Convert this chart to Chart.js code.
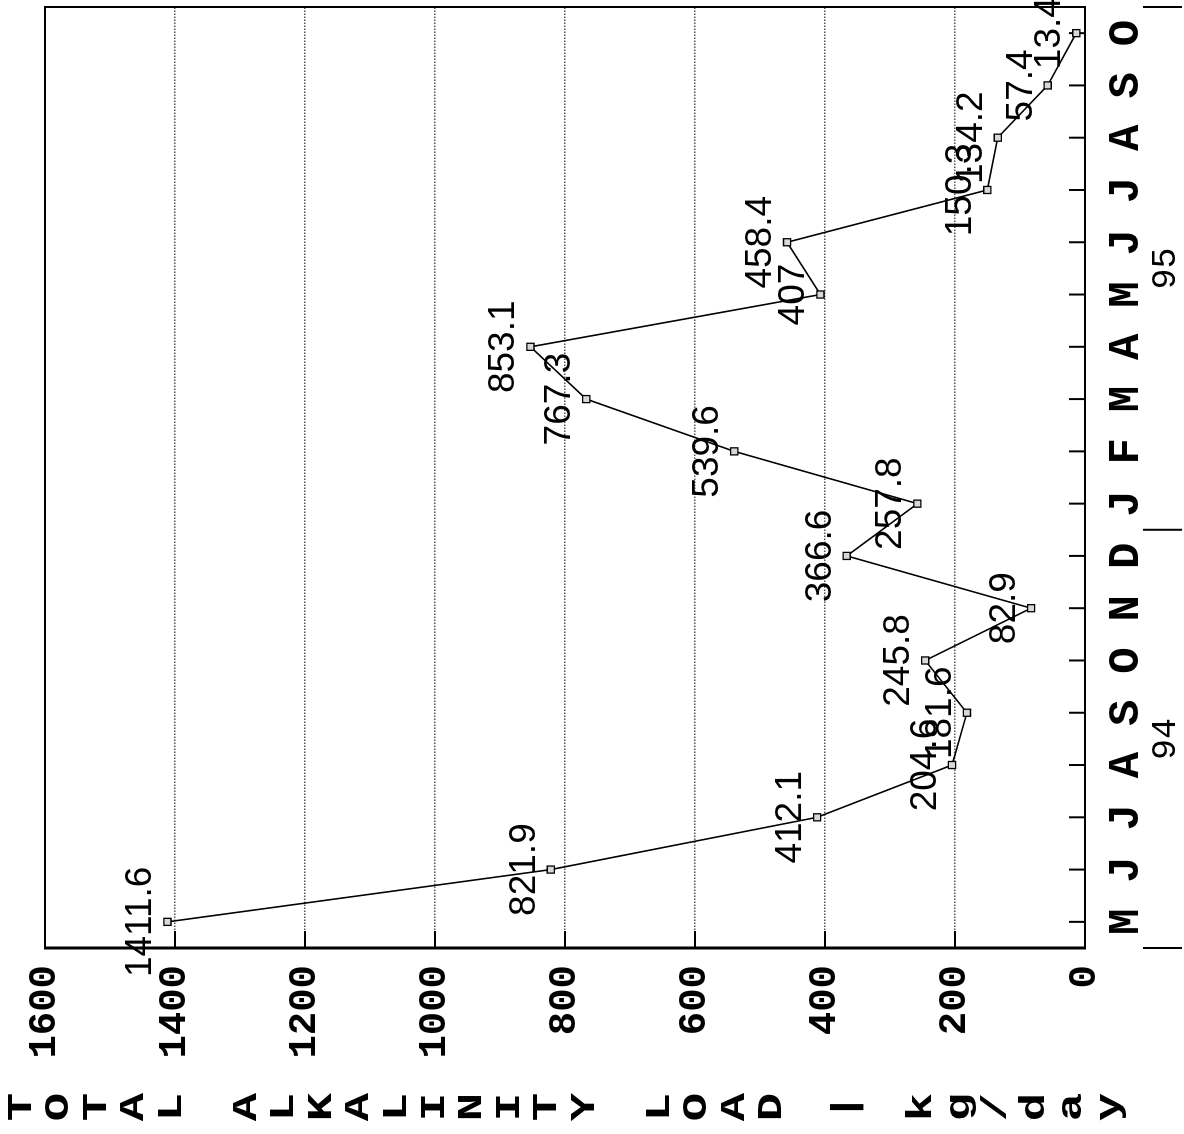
<!DOCTYPE html>
<html>
<head>
<meta charset="utf-8">
<title>Total alkalinity load</title>
<script src="https://cdn.jsdelivr.net/npm/chart.js@4.4.0/dist/chart.umd.min.js"></script>
<style>
  html, body { margin: 0; padding: 0; background: #fff; overflow: hidden; }
  #page { width: 1184px; height: 1134px; position: relative; overflow: hidden; background: #fff; }
  /* the chart is drawn landscape and turned a quarter turn, like the scanned page */
  #wrap { position: absolute; left: 0; top: 0; width: 1134px; height: 1184px;
          transform-origin: 0 0; transform: translate(0, 1134px) rotate(-90deg); }
</style>
</head>
<body>
<div id="page"><div id="wrap"><canvas id="chart" width="1134" height="1184"></canvas></div></div>
<script>
  // May 94 .. Oct 95
  const months = ['M','J','J','A','S','O','N','D','J','F','M','A','M','J','J','A','S','O'];
  const loads = [1411.6, 821.9, 412.1, 204.6, 181.6, 245.8, 82.9, 366.6, 257.8, 539.6, 767.3, 853.1, 407, 458.4, 150.3, 134.2, 57.4, 13.4];
  const years = ['94', '95'];
  const yearCenters = [3.5, 12.5];
  const yearBreaks = [-0.5, 7.5, 17.5];
  const titleText = 'TOTAL ALKALINITY LOAD | kg/day';

  const mono = 'Liberation Mono, Courier New, monospace';
  const sans = 'Liberation Sans, Arial, sans-serif';

  // frame, inner tick marks, point labels, year row and stacked title
  const frame = {
    id: 'frame',
    beforeDatasetsDraw(chart) {
      const { ctx, chartArea: a, scales: { x, y } } = chart;
      ctx.save();
      ctx.strokeStyle = '#000';
      ctx.lineWidth = 2;
      ctx.strokeRect(a.left, a.top, a.right - a.left, a.bottom - a.top);
      ctx.lineWidth = 3;
      ctx.beginPath();
      ctx.moveTo(a.left, a.top - 1);
      ctx.lineTo(a.left, a.bottom + 1);
      ctx.stroke();

      ctx.lineWidth = 2;
      months.forEach((m, i) => {
        const px = x.getPixelForValue(i);
        ctx.beginPath();
        ctx.moveTo(px, a.bottom);
        ctx.lineTo(px, a.bottom - 16);
        ctx.stroke();
      });
      y.ticks.forEach(t => {
        const py = y.getPixelForValue(t.value);
        ctx.beginPath();
        ctx.moveTo(a.left, py);
        ctx.lineTo(a.left + 17, py);
        ctx.stroke();
      });
      ctx.restore();
    },
    afterDatasetsDraw(chart) {
      const { ctx } = chart;
      const meta = chart.getDatasetMeta(0);
      ctx.save();
      ctx.fillStyle = '#000';
      ctx.font = '37px ' + sans;
      ctx.textAlign = 'center';
      ctx.textBaseline = 'alphabetic';
      meta.data.forEach((pt, i) => {
        ctx.fillText(String(loads[i]), pt.x, pt.y - 16);
      });
      ctx.restore();
    },
    afterDraw(chart) {
      const { ctx, scales: { x } } = chart;
      ctx.save();
      ctx.fillStyle = '#000';
      ctx.strokeStyle = '#000';

      // year row
      ctx.font = '35px ' + mono;
      ctx.textAlign = 'center';
      ctx.textBaseline = 'middle';
      years.forEach((yr, i) => {
        ctx.fillText(yr, x.getPixelForValue(yearCenters[i]), 1166);
      });
      ctx.lineWidth = 2;
      yearBreaks.forEach(b => {
        const px = x.getPixelForValue(b);
        ctx.beginPath();
        ctx.moveTo(px, 1143);
        ctx.lineTo(px, 1182);
        ctx.stroke();
      });

      // stacked axis title
      ctx.font = 'bold 35px ' + mono;
      const chars = titleText.split('');
      const step = (1110 - 22) / (chars.length - 1);
      chars.forEach((ch, i) => {
        if (ch === ' ') return;
        ctx.save();
        ctx.translate(27, 22 + i * step);
        ctx.scale(1.35, 1);
        ctx.fillText(ch, 0, 0);
        ctx.restore();
      });
      ctx.restore();
    }
  };

  new Chart(document.getElementById('chart'), {
    type: 'line',
    data: {
      labels: months,
      datasets: [{
        data: loads,
        borderColor: '#000',
        borderWidth: 1.6,
        tension: 0,
        fill: false,
        pointStyle: 'rect',
        pointRadius: 5,
        pointBorderWidth: 1.3,
        pointBorderColor: '#000',
        pointBackgroundColor: '#d8d8d8'
      }]
    },
    options: {
      responsive: false,
      animation: false,
      devicePixelRatio: 1,
      layout: { padding: { top: 45, right: 7, left: 0, bottom: 0 } },
      plugins: {
        legend: { display: false },
        tooltip: { enabled: false },
        title: { display: false }
      },
      scales: {
        x: {
          type: 'category',
          offset: true,
          grid: { display: false, drawTicks: false },
          border: { display: false },
          ticks: {
            autoSkip: false,
            maxRotation: 0,
            padding: 16,
            color: '#000',
            font: { family: mono, size: 44, weight: 'bold' }
          },
          afterFit(scale) { scale.height = 99; }
        },
        y: {
          min: 0,
          max: 1600,
          ticks: {
            stepSize: 200,
            padding: 17,
            color: '#000',
            font: { family: mono, size: 39, weight: 'bold' },
            callback: v => String(v)
          },
          grid: {
            drawTicks: false,
            lineWidth: 1.5,
            color: ctx => (ctx.tick && (ctx.tick.value === 0 || ctx.tick.value === 1600)) ? 'rgba(0,0,0,0)' : '#555'
          },
          border: { display: false, dash: [1.5, 1.5] },
          afterFit(scale) { scale.width = 186; }
        }
      }
    },
    plugins: [frame]
  });
</script>
</body>
</html>
